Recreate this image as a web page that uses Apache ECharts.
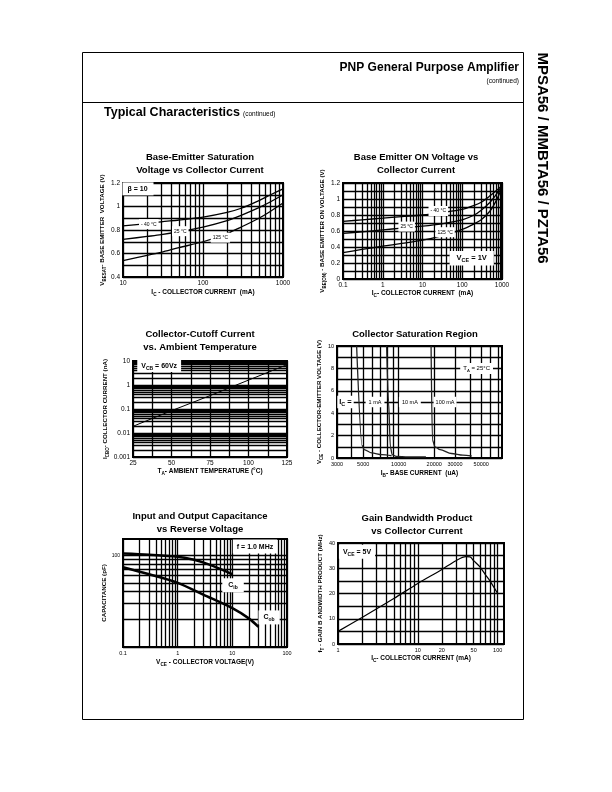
<!DOCTYPE html>
<html><head><meta charset="utf-8">
<script src="https://cdn.jsdelivr.net/npm/echarts@6/dist/echarts.min.js"></script>
<style>html,body{margin:0;padding:0;background:#fff}#c{width:612px;height:792px}</style>
</head><body><div id="c"></div>
<script>
// ---------- Chart 1: Base-Emitter Saturation Voltage vs Collector Current ----------
const satIc = [10, 20, 30, 50, 100, 200, 300, 500, 700, 1000];
const vbeSatM40 = [0.835, 0.855, 0.87, 0.885, 0.91, 0.95, 0.985, 1.05, 1.1, 1.15];
const vbeSat25 = [0.72, 0.745, 0.76, 0.785, 0.825, 0.88, 0.925, 0.99, 1.04, 1.1];
const vbeSat125 = [0.54, 0.585, 0.61, 0.65, 0.7, 0.77, 0.825, 0.9, 0.96, 1.03];
const satXLabels = [10, 100, 1000];

// ---------- Chart 2: Base Emitter ON Voltage vs Collector Current ----------
const onIc = [0.1, 0.3, 1, 3, 10, 30, 100, 200, 300, 500, 700, 1000];
const vbeOnM40 = [0.72, 0.74, 0.76, 0.78, 0.8, 0.83, 0.87, 0.92, 0.96, 1.04, 1.1, 1.17];
const vbeOn25 = [0.57, 0.59, 0.615, 0.635, 0.66, 0.69, 0.74, 0.8, 0.86, 0.96, 1.05, 1.16];
const vbeOn125 = [0.33, 0.37, 0.41, 0.445, 0.485, 0.54, 0.62, 0.69, 0.74, 0.85, 0.97, 1.14];
const onXLabels = [0.1, 1, 10, 100, 1000];

// ---------- Chart 3: Collector-Cutoff Current vs Ambient Temperature ----------
const cutoffTemp = [25, 50, 75, 100, 125];
const cutoffIcbo = [0.019, 0.085, 0.36, 1.6, 7];
const cutoffYLabels = [0.001, 0.01, 0.1, 1, 10];

// ---------- Chart 4: Collector Saturation Region ----------
const ib1mA = [4400, 4900, 5100, 5900, 7200, 8700];
const vce1mA = [10, 1.1, 0.75, 0.45, 0.3, 0.2];
const ib10mA = [7900, 8200, 8500, 8800, 9500, 12000, 17000];
const vce10mA = [10, 5, 1, 0.3, 0.15, 0.1, 0.1];
const ib100mA = [18800, 19300, 20300, 22400, 28000, 35000, 41500];
const vce100mA = [10, 1.6, 1.0, 0.74, 0.4, 0.25, 0.18];
const ibLabels = [3000, 5000, 10000, 20000, 30000, 50000];

// ---------- Chart 5: Input and Output Capacitance vs Reverse Voltage ----------
const cibVr = [0.1, 0.3, 1, 2, 3, 5, 10];
const cib = [104, 101, 96, 89, 83, 74, 62];
const cobVr = [0.1, 0.3, 1, 3, 10, 20, 30];
const cob = [74, 62, 50, 37, 26.5, 20.5, 16.6];
const capXLabels = [0.1, 1, 10, 100];
const capYLabels = [100];

// ---------- Chart 6: Gain Bandwidth Product vs Collector Current ----------
const ftIc = [1, 2, 5, 10, 20, 30, 40, 45, 50, 60, 70, 80, 100];
const ftMHz = [5, 10.5, 18, 24, 29.5, 33, 34.6, 34.5, 33, 30.5, 27.5, 25, 20];
const ftXLabels = [1, 10, 20, 50, 100];

// ================= building the option =================
const FONT = '"Liberation Sans", Arial, Helvetica, sans-serif';
const GW = 1.3;
const fmtNum = v => String(+(+v).toPrecision(6));

function logTicks(min, max) {
  const out = [];
  for (let e = Math.floor(Math.log10(min)) - 1; e <= Math.ceil(Math.log10(max)); e++) {
    for (let m = 1; m < 10; m++) {
      const v = +(m * Math.pow(10, e)).toPrecision(10);
      if (v >= min * 0.999 && v <= max * 1.001) out.push(v);
    }
  }
  return out;
}
function rich(fs, fw) {
  return {
    n: {fontSize: fs, fontWeight: fw, fontFamily: FONT, color: '#000', lineHeight: fs + 3},
    s: {fontSize: Math.round(fs * 0.72 * 10) / 10, fontWeight: fw, fontFamily: FONT, color: '#000', lineHeight: fs * 0.72, verticalAlign: 'bottom'}
  };
}
function nameCfg(name, gap, fs) {
  return {name, nameLocation: 'middle', nameGap: gap,
    nameTextStyle: {fontSize: fs, fontWeight: 'bold', fontFamily: FONT, color: '#000', rich: rich(fs, 'bold')}};
}
function logAxis(gi, min, max, labels, lfs, extra) {
  return Object.assign({
    type: 'log', logBase: 10, gridIndex: gi, min, max,
    axisLine: {show: false},
    axisTick: {show: false, customValues: logTicks(min, max)},
    splitLine: {show: true, lineStyle: {color: '#000', width: GW}},
    axisLabel: {customValues: labels, formatter: v => fmtNum(v), fontSize: lfs, color: '#000', fontFamily: FONT, margin: 3}
  }, extra);
}
function valAxis(gi, min, max, interval, labelStep, lfs, extra) {
  return Object.assign({
    type: 'value', gridIndex: gi, min, max, interval,
    axisLine: {show: false}, axisTick: {show: false},
    splitLine: {show: true, lineStyle: {color: '#000', width: GW}},
    axisLabel: {fontSize: lfs, color: '#000', fontFamily: FONT, margin: 3,
      formatter: v => { const r = v / labelStep; return Math.abs(r - Math.round(r)) < 1e-6 ? fmtNum(v) : ''; }}
  }, extra);
}
function line(gi, xs, ys, width, color, extra) {
  return Object.assign({type: 'line', xAxisIndex: gi, yAxisIndex: gi, data: xs.map((x, i) => [x, ys[i]]),
    symbol: 'none', smooth: 0.3, silent: true, z: 3, lineStyle: {color: color || '#000', width}}, extra || {});
}
function notes(gi, items) {
  return {type: 'scatter', xAxisIndex: gi, yAxisIndex: gi, symbol: 'circle', symbolSize: 1, silent: true, z: 10,
    itemStyle: {color: 'rgba(0,0,0,0)', opacity: 1}, emphasis: {disabled: true},
    data: items.map(it => ({value: [it.x, it.y], label: {show: true, position: 'inside', formatter: it.t, opacity: 1,
      backgroundColor: '#fff', padding: it.pad || [1, 2], color: '#000', fontFamily: FONT,
      fontSize: it.fs, fontWeight: it.fw || 'normal', rich: rich(it.fs, it.fw || 'normal')}}))};
}

const grids = [
  {left: 123, top: 183, width: 160, height: 94},
  {left: 343, top: 183, width: 159, height: 96},
  {left: 133, top: 361, width: 154, height: 96},
  {left: 337, top: 346, width: 165, height: 112},
  {left: 123, top: 539, width: 164, height: 108},
  {left: 338, top: 543, width: 166, height: 101}
].map(g => Object.assign(g, {show: true, borderColor: '#000', borderWidth: 2, backgroundColor: 'transparent', outerBoundsMode: 'none'}));

const xAxes = [
  logAxis(0, 10, 1000, satXLabels, 6.5, nameCfg('{n|I}{s|C}{n| - COLLECTOR CURRENT  (mA)}', 10.5, 6.5)),
  logAxis(1, 0.1, 1000, onXLabels, 6.5, nameCfg('{n|I}{s|C}{n|- COLLECTOR CURRENT  (mA)}', 8.5, 6.5)),
  valAxis(2, 25, 125, 12.5, 25, 6.5, nameCfg('{n|T}{s|A}{n|- AMBIENT TEMPERATURE (°C)}', 9.5, 6.5)),
  logAxis(3, 3000, 75000, ibLabels, 5.5, nameCfg('{n|I}{s|B}{n|- BASE CURRENT  (uA)}', 10.5, 6.5)),
  logAxis(4, 0.1, 100, capXLabels, 5.5, nameCfg('{n|V}{s|CE}{n| - COLLECTOR VOLTAGE(V)}', 10.5, 6.5)),
  logAxis(5, 1, 120, ftXLabels, 5.5, nameCfg('{n|I}{s|C}{n|- COLLECTOR CURRENT (mA)}', 9.5, 6.5))
];
const yAxes = [
  valAxis(0, 0.4, 1.2, 0.1, 0.2, 6.5, nameCfg('{n|V}{s|BESAT}{n|- BASE EMITTER  VOLTAGE (V)}', 12.5, 6.2)),
  valAxis(1, 0, 1.2, 0.1, 0.2, 6.5, nameCfg('{n|V}{s|BE(ON)}{n| - BASE EMITTER ON VOLTAGE (V)}', 12.5, 6.2)),
  logAxis(2, 0.001, 10, cutoffYLabels, 6.5, nameCfg('{n|I}{s|CBO}{n|- COLLECTOR CURRENT (nA)}', 21.5, 6.2)),
  valAxis(3, 0, 10, 1, 2, 5.5, nameCfg('{n|V}{s|CE}{n| - COLLECTOR-EMITTER VOLTAGE (V)}', 9.5, 6.2)),
  logAxis(4, 10, 150, capYLabels, 5, nameCfg('{n|CAPACITANCE (pF)}', 12.5, 6.2)),
  valAxis(5, 0, 40, 5, 10, 5.5, nameCfg('{n|f}{s|T}{n| - GAIN B ANDWIDTH PRODUCT (MHz)}', 9.5, 6.2))
];

const series = [
  line(0, satIc, vbeSatM40, 1.3), line(0, satIc, vbeSat25, 1.3), line(0, satIc, vbeSat125, 1.3),
  notes(0, [
    {x: 15.4, y: 1.15, t: '{n|β = 10}', fs: 7, fw: 'bold', pad: [2, 6, 1, 5]},
    {x: 21, y: 0.85, t: '{n|- 40 °C}', fs: 5},
    {x: 52, y: 0.79, t: '{n|25 °C}', fs: 5},
    {x: 165, y: 0.735, t: '{n|125 °C}', fs: 5}
  ]),
  line(1, onIc, vbeOnM40, 1.3), line(1, onIc, vbeOn25, 1.3), line(1, onIc, vbeOn125, 1.3),
  notes(1, [
    {x: 25, y: 0.85, t: '{n|- 40 °C}', fs: 5},
    {x: 4, y: 0.655, t: '{n|25 °C}', fs: 5},
    {x: 37, y: 0.585, t: '{n|125 °C}', fs: 5},
    {x: 173, y: 0.26, t: '{n|V}{s|CE}{n| = 1V}', fs: 7.5, fw: 'bold', pad: [2, 7]}
  ]),
  line(2, cutoffTemp, cutoffIcbo, 1, '#000', {smooth: false}),
  notes(2, [{x: 42, y: 6.2, t: '{n|V}{s|CB}{n| = 60Vz}', fs: 7, fw: 'bold', pad: [1, 4]}]),
  line(3, ib1mA, vce1mA, 1.3, '#222', {smoothMonotone: 'x'}),
  line(3, ib10mA, vce10mA, 1.3, '#222', {smoothMonotone: 'x'}),
  line(3, ib100mA, vce100mA, 1.3, '#222', {smoothMonotone: 'x'}),
  notes(3, [
    {x: 3540, y: 5, t: '{n|I}{s|C}{n| =}', fs: 7.5, fw: 'bold', pad: [1, 2]},
    {x: 6300, y: 5, t: '{n|1 mA}', fs: 5.5, pad: [1, 3]},
    {x: 12430, y: 5, t: '{n|10 mA}', fs: 5.5, pad: [1, 3]},
    {x: 24700, y: 5, t: '{n|100 mA}', fs: 5.5, pad: [1, 2]},
    {x: 45700, y: 8, t: '{n|T}{s|A}{n| = 25°C}', fs: 6, pad: [1, 3]}
  ]),
  line(4, cibVr, cib, 2.5), line(4, cobVr, cob, 2.5),
  notes(4, [
    {x: 26, y: 124, t: '{n|f = 1.0 MHz}', fs: 7, fw: 'bold', pad: [2, 4]},
    {x: 10.3, y: 47, t: '{n|C}{s|ib}', fs: 7, fw: 'bold', pad: [2, 6]},
    {x: 47, y: 21, t: '{n|C}{s|ob}', fs: 7, fw: 'bold', pad: [2, 5]}
  ]),
  line(5, ftIc, ftMHz, 1.2),
  notes(5, [{x: 1.73, y: 36.5, t: '{n|V}{s|CE}{n| = 5V}', fs: 7, fw: 'bold', pad: [2, 4]}])
];

function txt(x, y, text, font, align, extra) {
  return Object.assign({type: 'text', x, y, silent: true, z: 20,
    style: {text, font, fill: '#000', align: align || 'center', textAlign: align || 'center',
      verticalAlign: 'middle', textVerticalAlign: 'middle', lineHeight: 13}}, extra || {});
}
const TF = 'bold 9.5px ' + FONT;
const graphic = [
  {type: 'rect', silent: true, shape: {x: 82.5, y: 52.5, width: 441, height: 667}, style: {fill: 'none', stroke: '#000', lineWidth: 1}},
  {type: 'line', silent: true, shape: {x1: 82, y1: 102.5, x2: 523, y2: 102.5}, style: {stroke: '#000', lineWidth: 1}},
  txt(519, 68, 'PNP General Purpose Amplifier', 'bold 12px ' + FONT, 'right'),
  txt(519, 81, '(continued)', '6.5px ' + FONT, 'right'),
  txt(104, 113, 'Typical Characteristics', 'bold 12.5px ' + FONT, 'left'),
  txt(243, 114.5, '(continued)', '6.5px ' + FONT, 'left'),
  txt(542, 158, 'MPSA56 / MMBTA56 / PZTA56', 'bold 15px ' + FONT, 'center', {rotation: -Math.PI / 2}),
  txt(200, 163.5, 'Base-Emitter Saturation\nVoltage vs Collector Current', TF),
  txt(416, 163.5, 'Base Emitter ON Voltage vs\nCollector Current', TF),
  txt(200, 340.5, 'Collector-Cutoff Current\nvs. Ambient Temperature', TF),
  txt(415, 334, 'Collector Saturation Region', TF),
  txt(200, 522.5, 'Input and Output Capacitance\nvs Reverse Voltage', TF),
  txt(417, 524.5, 'Gain Bandwidth Product\nvs Collector Current', TF)
];

const chart = echarts.init(document.getElementById('c'), null, {renderer: 'canvas'});
chart.setOption({animation: false, backgroundColor: '#fff', grid: grids, xAxis: xAxes, yAxis: yAxes, series, graphic});
</script>
</body></html>
